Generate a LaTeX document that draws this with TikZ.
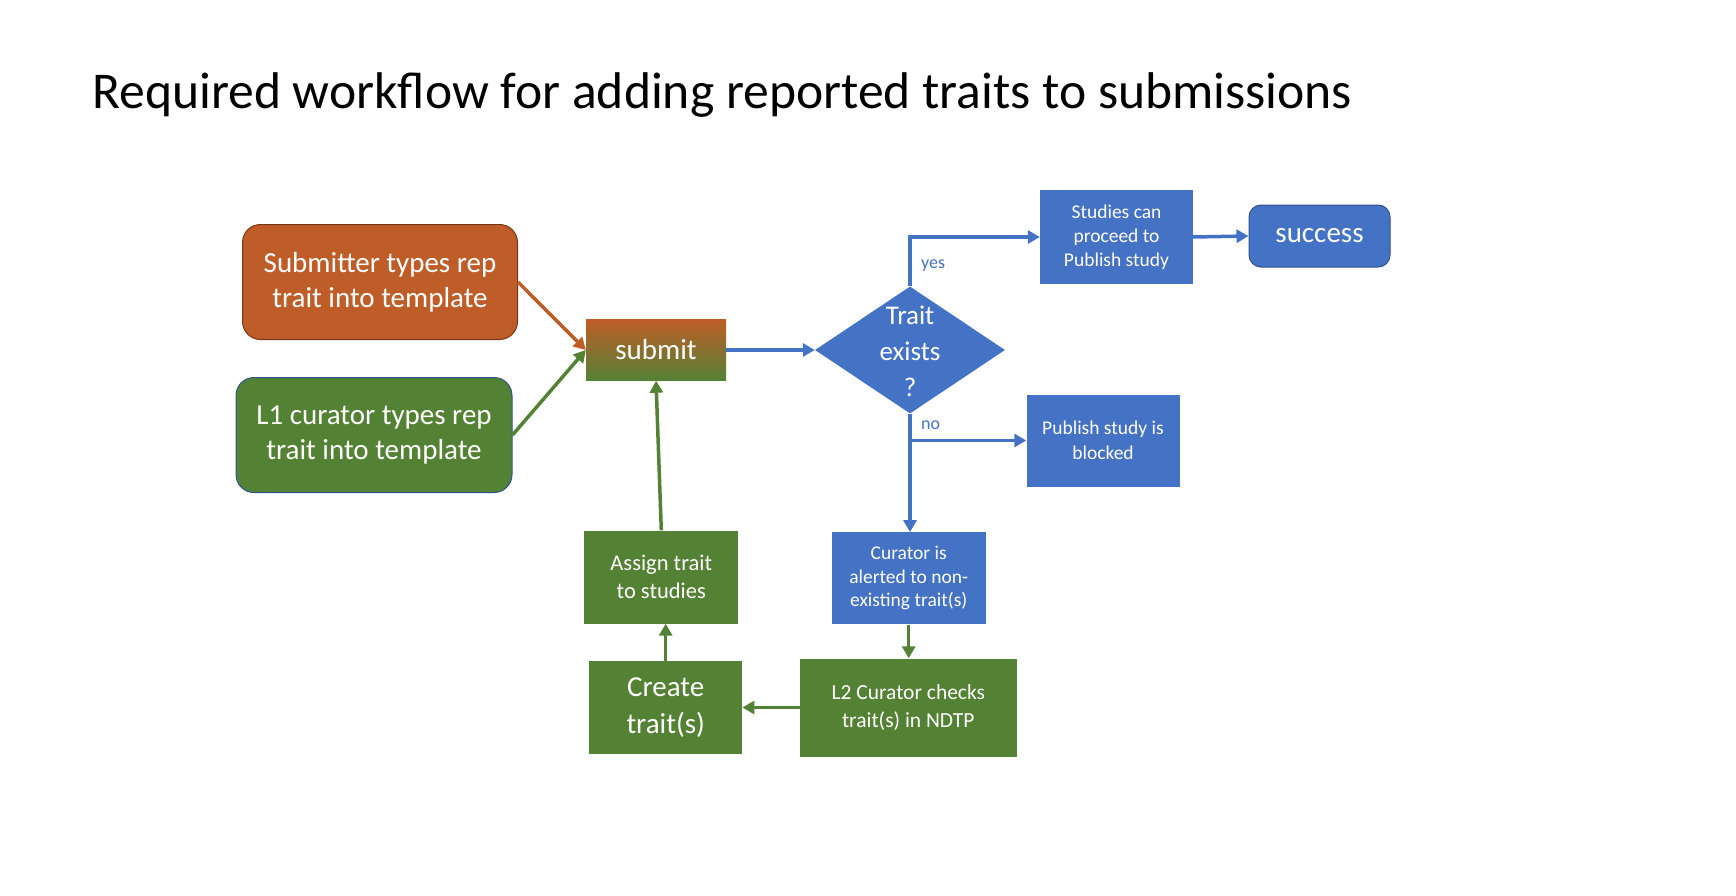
\documentclass[tikz,border=0pt]{standalone}
\usepackage{fontspec}
\setmainfont{Carlito}
\usetikzlibrary{arrows.meta,shapes.geometric}
\definecolor{orng}{RGB}{190,93,40}
\definecolor{orngD}{RGB}{120,55,20}
\definecolor{grn}{RGB}{84,130,53}
\definecolor{blu}{RGB}{68,114,196}
\definecolor{bluD}{RGB}{47,82,143}
\newcommand{\fs}[2]{\fontsize{#1}{#2}\selectfont}
\tikzset{
  x=1pt, y=-1pt,
  box/.style={inner sep=2pt, align=center, text=white, draw=none},
  rbox/.style={box, rounded corners=18pt, line width=1pt},
  conn/.style={line width=3.5pt, -{Triangle[length=12pt,width=13pt]}},
  lbl/.style={text=blu, font=\fs{18}{20}, inner sep=0pt}
}
\begin{document}
\begin{tikzpicture}
\useasboundingbox (0,0) rectangle (1736,896);
\fill[white] (0,0) rectangle (1736,896);

\node[anchor=base west, inner sep=0pt, font=\fs{51.6}{56}] (title) at (92,109)
  {Required workflow for adding reported traits to submissions};

\node[rbox, fill=orng, draw=orngD, minimum width=275pt, minimum height=115pt, font=\fs{29}{35}]
  (sub) at (380,282) {Submitter types rep\\trait into template};
\node[rbox, fill=grn, draw=bluD, minimum width=276pt, minimum height=115pt, font=\fs{29}{35}]
  (l1) at (374,435) {L1 curator types rep\\trait into template};
\node[box, top color=orng, bottom color=grn, minimum width=140pt, minimum height=61pt, font=\fs{29}{35}]
  (submit) at (656,350) {\raisebox{-2pt}{submit}};

\node[diamond, fill=blu, inner sep=0pt, minimum width=190pt, minimum height=127pt]
  (dia) at (910,350) {};
\node[box, font=\fs{27}{36}] (diatext) at (910,351) {Trait\\exists\\?};

\node[box, fill=blu, minimum width=153pt, minimum height=93pt, font=\fs{19.5}{24}]
  (studies) at (1116.5,237) {Studies can\\proceed to\\Publish study};
\node[box, rounded corners=12pt, fill=blu, draw=bluD, line width=1pt, minimum width=141pt, minimum height=62pt, font=\fs{29}{35}]
  (success) at (1319.5,236) {\raisebox{-3pt}{success}};
\node[box, fill=blu, minimum width=153pt, minimum height=92pt, font=\fs{19.5}{24.5}]
  (blocked) at (1103,440.5) {Publish study is\\blocked};
\node[box, fill=blu, minimum width=154pt, minimum height=92pt, font=\fs{19.5}{23.5}]
  (curator) at (908.7,578.3) {Curator is\\alerted to non-\\existing trait(s)};
\node[box, fill=grn, minimum width=217pt, minimum height=98pt, font=\fs{21.5}{27.5}]
  (l2) at (908.3,707.5) {L2 Curator checks\\trait(s) in NDTP};
\node[box, fill=grn, minimum width=153pt, minimum height=93pt, font=\fs{29}{36.5}]
  (create) at (665.7,707.5) {Create\\trait(s)};
\node[box, fill=grn, minimum width=154pt, minimum height=93pt, font=\fs{22.5}{27.5}]
  (assign) at (661.3,577) {Assign trait\\to studies};

% connectors
\draw[conn, orng] (sub.east) -- (submit.west);
\draw[conn, grn] (l1.east) -- (submit.west);
\draw[conn, blu] (submit.east) -- (dia.west);
\draw[conn, blu] (dia.north) |- (studies.west);
\draw[conn, blu] (studies.east) -- (success.west);
\draw[conn, blu] (dia.south) -- (dia.south |- curator.north);
\coordinate (nob) at (dia.south |- blocked.west);
\draw[conn, blu] (nob) -- (blocked.west);
\draw[conn, grn] (curator.south) -- (curator.south |- l2.north);
\draw[conn, grn] (l2.west) -- (create.east);
\draw[conn, grn] (create.north) -- (create.north |- assign.south);
\draw[conn, grn] (assign.north) -- (submit.south);

\node[lbl, anchor=west] (yes) at (921,266) {yes};
\node[lbl, anchor=west] (no) at (921,425) {no};
\end{tikzpicture}
\end{document}
